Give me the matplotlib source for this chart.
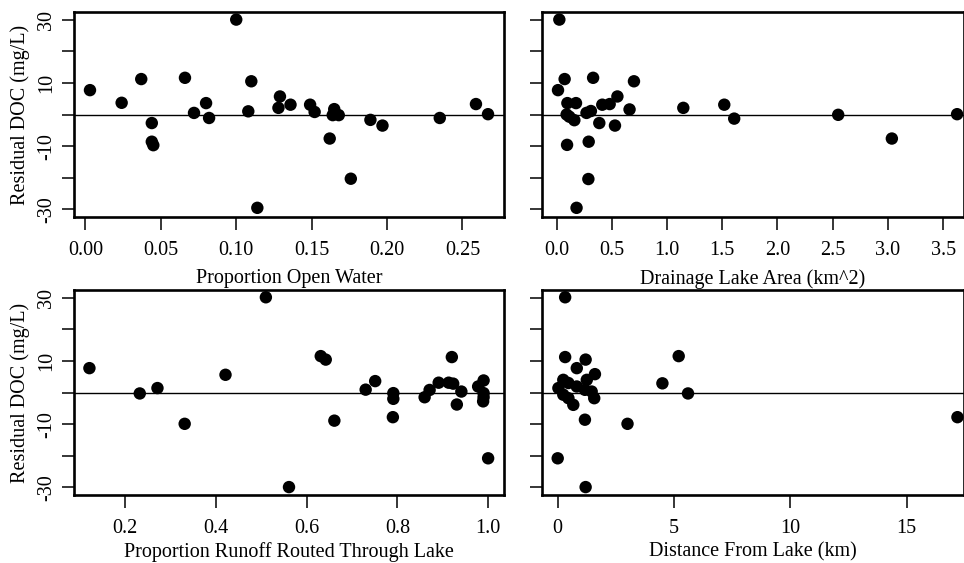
import matplotlib
matplotlib.use("Agg")
import matplotlib.pyplot as plt

plt.rcParams['font.family'] = ['Liberation Serif', 'DejaVu Serif']

# Residual DOC (mg/L) against four predictors
open_water = [0.003, 0.024, 0.037, 0.044, 0.044, 0.045, 0.066, 0.072, 0.080, 0.082,
              0.100, 0.108, 0.110, 0.114, 0.128, 0.129, 0.136, 0.149, 0.152, 0.162,
              0.164, 0.165, 0.168, 0.176, 0.189, 0.197, 0.235, 0.259, 0.267]
resid_open_water = [7.7, 3.7, 11.2, -2.7, -8.6, -9.7, 11.6, 0.5, 3.6, -1.1,
                    30.0, 1.0, 10.5, -29.5, 2.1, 5.7, 3.1, 3.1, 0.8, -7.6,
                    -0.2, 1.7, -0.2, -20.3, -1.7, -3.5, -1.1, 3.3, 0.1]

lake_area = [0.024, 0.072, 0.012, 0.097, 0.175, 0.090, 0.115, 0.160, 0.094, 0.180,
             0.287, 0.290, 0.270, 0.310, 0.330, 0.386, 0.413, 0.480, 0.550, 0.528,
             0.660, 0.700, 1.147, 1.518, 1.608, 2.550, 3.036, 3.627]
resid_lake_area = [30.0, 11.2, 7.7, 3.6, 3.6, 0.0, -0.7, -1.8, -9.6, -29.5,
                   -20.4, -8.6, 0.5, 1.1, 11.6, -2.7, 3.1, 3.3, 5.7, -3.5,
                   1.6, 10.5, 2.1, 3.1, -1.3, -0.1, -7.6, 0.1]

runoff = [0.121, 0.232, 0.271, 0.331, 0.421, 0.510, 0.561, 0.631, 0.642, 0.661,
          0.730, 0.751, 0.791, 0.791, 0.790, 0.860, 0.871, 0.891, 0.913, 0.923,
          0.920, 0.941, 0.931, 0.978, 0.990, 0.990, 0.990, 0.989, 1.000]
resid_runoff = [7.7, -0.3, 1.4, -9.9, 5.6, 30.1, -29.9, 11.5, 10.4, -8.9,
                0.9, 3.6, -0.2, -2.0, -7.8, -1.5, 0.8, 3.1, 3.1, 2.8,
                11.2, 0.3, -3.8, 1.9, 3.8, -0.2, -1.5, -2.8, -20.8]

distance = [0.32, 0.32, 1.20, 0.82, 1.60, 0.24, 1.25, 0.03, 0.46, 0.82,
            1.17, 1.46, 0.24, 1.57, 0.46, 0.67, 1.17, 3.00, 0.00, 1.20,
            5.20, 4.50, 5.60, 17.18]
resid_distance = [30.1, 11.2, 10.4, 7.7, 5.8, 4.0, 4.0, 1.4, 3.0, 1.9,
                  0.85, 0.3, -0.7, -1.8, -1.8, -3.9, -8.6, -9.9, -20.8, -29.9,
                  11.5, 2.9, -0.3, -7.8]

y_ticks = [-30, -20, -10, 0, 10, 20, 30]
y_labels = ['-30', '', '-10', '', '10', '', '30']

panels = [
    # x, y, xlabel, xticks, xticklabels, xlim, rect (pixels: left, top, right, bottom), y labels?, xlabel pad
    (open_water, resid_open_water, 'Proportion Open Water',
     [0.0, 0.05, 0.10, 0.15, 0.20, 0.25], ['0.00', '0.05', '0.10', '0.15', '0.20', '0.25'],
     (-0.0076, 0.2776), (74, 12, 504, 217), True, 7),
    (lake_area, resid_lake_area, 'Drainage Lake Area (km^2)',
     [0.0, 0.5, 1.0, 1.5, 2.0, 2.5, 3.0, 3.5], ['0.0', '0.5', '1.0', '1.5', '2.0', '2.5', '3.0', '3.5'],
     (-0.133, 3.685), (542, 12, 963.5, 217), False, 7),
    (runoff, resid_runoff, 'Proportion Runoff Routed Through Lake',
     [0.2, 0.4, 0.6, 0.8, 1.0], ['0.2', '0.4', '0.6', '0.8', '1.0'],
     (0.087, 1.035), (74, 290, 504, 495), True, 3),
    (distance, resid_distance, 'Distance From Lake (km)',
     [0, 5, 10, 15], ['0', '5', '10', '15'],
     (-0.675, 17.44), (542, 290, 963.5, 495), False, 3),
]

W, H = 964, 563
fig = plt.figure(figsize=(W / 100, H / 100), dpi=100)

for x, y, xlabel, xt, xtl, xlim, (l, t, r, b), show_ylab, xpad in panels:
    ax = fig.add_axes([l / W, 1 - b / H, (r - l) / W, (b - t) / H])
    ax.axhline(0, color='black', lw=1.0, zorder=1)
    ax.scatter(x, y, s=80, color='black', edgecolors='none', zorder=2, clip_on=False)
    ax.set_xlim(*xlim)
    ax.set_ylim(-32.4, 32.4)
    ax.set_xticks(xt)
    ax.set_xticklabels(xtl)
    ax.set_yticks(y_ticks)
    if show_ylab:
        ax.set_yticklabels(y_labels, rotation=90, va='center')
        ax.set_ylabel('Residual DOC (mg/L)', fontsize=14.5, labelpad=5)
    else:
        ax.set_yticklabels([])
    ax.set_xlabel(xlabel, fontsize=14.5, labelpad=xpad)
    ax.tick_params(direction='out', length=9, width=1.1, labelsize=14.5, color='black')
    ax.tick_params(axis='x', pad=8)
    ax.tick_params(axis='y', pad=4)
    for sp in ax.spines.values():
        sp.set_linewidth(1.9)

fig.savefig('out.png', dpi=100)
